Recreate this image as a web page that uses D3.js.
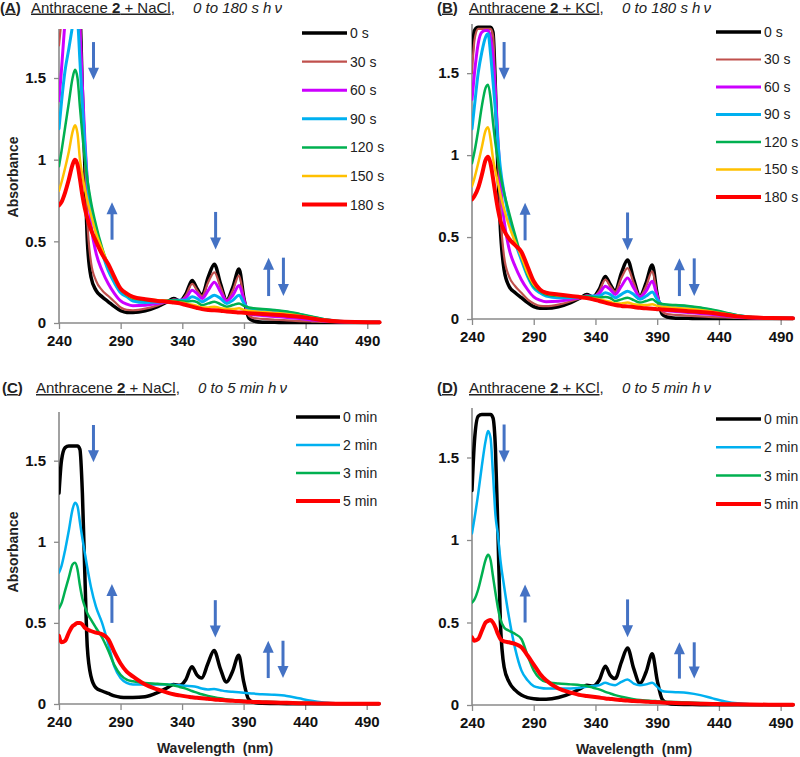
<!DOCTYPE html>
<html><head><meta charset="utf-8">
<script src="https://cdn.jsdelivr.net/npm/d3@7"></script>
<style>
body{margin:0;background:#fff}
svg{display:block;font-family:Arial,"Liberation Sans",sans-serif}
</style>
</head><body>
<svg id="chart" width="800" height="757"></svg>
<script>
// ---------- data ----------
const wavelengths = [240,242,245,248,251,253,255,257,259,261,263,266,270,275,280,285,290,295,300,310,320,328,333,338,343,348,352,356,361,366,371,376,381,386,390,394,398,405,415,425,435,445,455,465,480,500];
const xTickValues = [240,290,340,390,440,490];
const yTickValues = [0,0.5,1,1.5];
const yTickLabels = ["0","0.5","1","1.5"];
const secLabels = ["0 s","30 s","60 s","90 s","120 s","150 s","180 s"];
const minLabels = ["0 min","2 min","3 min","5 min"];
const secColors = ["#000000","#c0504d","#cc00ff","#00b0f0","#00b050","#ffc000","#ff0000"];
const minColors = ["#000000","#00b0f0","#00b050","#ff0000"];

// (A) Anthracene 2 + NaCl, 0-180 s
const A_0s   = [1.9,2.0,2.0,2.0,2.0,2.0,2.0,1.9,1.4,0.95, 0.5,0.28,0.2,0.16,0.13,0.1,0.075,0.065,0.065,0.075, 0.1,0.13,0.15,0.135,0.18,0.26,0.21,0.17,0.28,0.36, 0.24,0.14,0.22,0.33,0.15,0.03,0.012,0.005,0.004,0.003, 0.003,0.003,0.003,0.003,0.003,0.003];
const A_30s  = [1.7,1.85,2.0,2.0,2.0,2.0,2.0,1.88,1.4,1.0, 0.62,0.37,0.26,0.2,0.165,0.13,0.095,0.08,0.078,0.088, 0.108,0.13,0.145,0.135,0.17,0.24,0.2,0.165,0.25,0.31, 0.22,0.14,0.2,0.29,0.15,0.045,0.03,0.025,0.02,0.016, 0.012,0.009,0.006,0.005,0.004,0.003];
const A_60s  = [1.36,1.55,1.85,2.0,2.0,2.0,2.0,1.8,1.45,1.12, 0.86,0.6,0.43,0.32,0.24,0.18,0.135,0.115,0.105,0.108, 0.12,0.13,0.14,0.138,0.155,0.2,0.18,0.15,0.2,0.25, 0.19,0.135,0.17,0.23,0.14,0.06,0.05,0.046,0.04,0.034, 0.027,0.019,0.012,0.008,0.005,0.004];
const A_90s  = [1.19,1.35,1.55,1.68,1.82,1.92,1.86,1.6,1.33,1.08, 0.87,0.7,0.56,0.43,0.32,0.245,0.185,0.16,0.135,0.125, 0.128,0.133,0.138,0.14,0.14,0.16,0.15,0.13,0.15,0.17, 0.15,0.12,0.14,0.17,0.12,0.088,0.083,0.08,0.075,0.066, 0.052,0.036,0.021,0.012,0.007,0.005];
const A_120s = [0.96,1.05,1.2,1.35,1.5,1.55,1.5,1.32,1.15,1.0, 0.88,0.74,0.6,0.46,0.35,0.27,0.205,0.17,0.15,0.14, 0.138,0.138,0.138,0.135,0.13,0.135,0.128,0.11,0.12,0.13, 0.115,0.1,0.11,0.12,0.105,0.095,0.09,0.086,0.08,0.07, 0.056,0.04,0.023,0.013,0.007,0.005];
const A_150s = [0.81,0.86,0.95,1.05,1.17,1.21,1.16,1.0,0.9,0.82, 0.75,0.66,0.55,0.45,0.355,0.27,0.21,0.175,0.155,0.145, 0.14,0.135,0.13,0.125,0.12,0.112,0.105,0.095,0.095,0.1, 0.09,0.085,0.085,0.09,0.08,0.075,0.072,0.068,0.062,0.055, 0.045,0.032,0.02,0.012,0.007,0.005];
const A_180s = [0.72,0.74,0.8,0.88,0.97,1.0,0.97,0.88,0.78,0.7, 0.64,0.57,0.5,0.42,0.36,0.28,0.21,0.18,0.16,0.145, 0.135,0.13,0.125,0.12,0.11,0.1,0.092,0.085,0.08,0.078, 0.075,0.07,0.068,0.065,0.063,0.06,0.058,0.055,0.05,0.045, 0.038,0.028,0.017,0.01,0.006,0.005];

// (B) Anthracene 2 + KCl, 0-180 s
const B_0s   = [1.6,1.76,1.78,1.78,1.78,1.78,1.78,1.75,1.4,0.9, 0.55,0.3,0.2,0.16,0.13,0.1,0.075,0.065,0.065,0.075, 0.1,0.13,0.15,0.135,0.18,0.26,0.21,0.17,0.28,0.36, 0.24,0.14,0.22,0.33,0.15,0.03,0.012,0.005,0.004,0.003, 0.003,0.003,0.003,0.003,0.003,0.003];
const B_30s  = [1.5,1.7,1.77,1.77,1.77,1.77,1.77,1.73,1.4,1.0, 0.64,0.38,0.26,0.2,0.16,0.12,0.095,0.08,0.078,0.088, 0.108,0.13,0.145,0.135,0.17,0.24,0.2,0.165,0.25,0.31, 0.22,0.14,0.2,0.29,0.15,0.045,0.03,0.025,0.02,0.016, 0.012,0.009,0.006,0.005,0.004,0.003];
const B_60s  = [1.34,1.5,1.68,1.75,1.76,1.76,1.72,1.6,1.38,1.1, 0.84,0.6,0.43,0.32,0.24,0.18,0.135,0.115,0.105,0.108, 0.12,0.13,0.14,0.138,0.155,0.2,0.18,0.15,0.2,0.25, 0.19,0.135,0.17,0.23,0.14,0.06,0.05,0.046,0.04,0.034, 0.027,0.019,0.012,0.008,0.005,0.004];
const B_90s  = [1.16,1.3,1.5,1.63,1.72,1.74,1.62,1.45,1.27,1.08, 0.92,0.77,0.62,0.47,0.36,0.26,0.19,0.16,0.14,0.13, 0.13,0.133,0.138,0.14,0.14,0.16,0.15,0.13,0.15,0.17, 0.15,0.12,0.14,0.165,0.12,0.088,0.083,0.08,0.075,0.066, 0.052,0.036,0.021,0.012,0.007,0.005];
const B_120s = [0.95,1.02,1.15,1.3,1.41,1.43,1.35,1.2,1.07,0.97, 0.88,0.77,0.65,0.51,0.38,0.27,0.2,0.17,0.15,0.14, 0.138,0.138,0.138,0.135,0.13,0.135,0.128,0.11,0.12,0.13, 0.115,0.1,0.11,0.12,0.1,0.092,0.088,0.085,0.08,0.07, 0.056,0.04,0.023,0.013,0.007,0.005];
const B_150s = [0.81,0.86,0.95,1.05,1.15,1.17,1.1,0.98,0.9,0.83, 0.76,0.67,0.57,0.47,0.38,0.28,0.21,0.175,0.155,0.145, 0.14,0.135,0.13,0.125,0.12,0.112,0.105,0.095,0.095,0.1, 0.09,0.085,0.085,0.09,0.08,0.075,0.072,0.068,0.062,0.055, 0.045,0.032,0.02,0.012,0.007,0.005];
const B_180s = [0.73,0.75,0.8,0.88,0.97,0.99,0.95,0.86,0.76,0.67, 0.6,0.54,0.49,0.45,0.41,0.32,0.23,0.18,0.16,0.15, 0.14,0.133,0.128,0.12,0.11,0.1,0.092,0.085,0.08,0.077, 0.073,0.068,0.065,0.062,0.06,0.058,0.056,0.053,0.048,0.043, 0.036,0.026,0.016,0.01,0.006,0.005];

// (C) Anthracene 2 + NaCl, 0-5 min
const C_0min = [1.3,1.5,1.58,1.59,1.59,1.59,1.59,1.57,1.3,0.8, 0.35,0.17,0.1,0.08,0.065,0.05,0.042,0.04,0.04,0.045, 0.07,0.1,0.12,0.115,0.15,0.23,0.18,0.16,0.25,0.33, 0.22,0.135,0.2,0.3,0.14,0.03,0.01,0.004,0.003,0.002, 0.002,0.002,0.002,0.002,0.002,0.002];
const C_2min = [0.81,0.85,0.95,1.07,1.2,1.24,1.22,1.12,1.02,0.93, 0.84,0.72,0.6,0.5,0.37,0.23,0.16,0.13,0.12,0.12, 0.12,0.12,0.118,0.115,0.112,0.11,0.105,0.095,0.09,0.092, 0.085,0.078,0.075,0.073,0.07,0.066,0.064,0.06,0.057,0.05, 0.035,0.02,0.01,0.005,0.003,0.002];
const C_3min = [0.59,0.62,0.7,0.78,0.86,0.87,0.83,0.73,0.65,0.6, 0.56,0.52,0.47,0.41,0.33,0.24,0.18,0.15,0.14,0.13, 0.125,0.12,0.115,0.105,0.095,0.08,0.07,0.06,0.05,0.042, 0.035,0.03,0.025,0.022,0.02,0.018,0.016,0.014,0.012,0.01, 0.008,0.006,0.004,0.003,0.002,0.002];
const C_5min = [0.42,0.38,0.39,0.44,0.48,0.49,0.5,0.5,0.49,0.47, 0.46,0.45,0.44,0.43,0.4,0.32,0.25,0.2,0.17,0.12, 0.09,0.07,0.06,0.053,0.047,0.042,0.038,0.035,0.032,0.028, 0.025,0.022,0.02,0.018,0.016,0.014,0.013,0.011,0.009,0.007, 0.005,0.004,0.003,0.002,0.002,0.002];

// (D) Anthracene 2 + KCl, 0-5 min
const D_0min = [1.3,1.6,1.75,1.76,1.76,1.76,1.76,1.74,1.55,1.05, 0.5,0.23,0.14,0.09,0.06,0.045,0.038,0.035,0.035,0.045, 0.07,0.1,0.12,0.115,0.15,0.235,0.18,0.16,0.26,0.345, 0.22,0.13,0.2,0.31,0.15,0.035,0.012,0.004,0.003,0.002, 0.002,0.002,0.002,0.002,0.002,0.002];
const D_2min = [1.04,1.13,1.28,1.45,1.6,1.66,1.62,1.4,1.15,1.03, 0.88,0.72,0.53,0.34,0.21,0.15,0.115,0.105,0.1,0.1, 0.1,0.105,0.11,0.115,0.12,0.135,0.125,0.12,0.14,0.155, 0.13,0.12,0.125,0.135,0.11,0.085,0.08,0.078,0.073,0.06, 0.04,0.022,0.01,0.005,0.003,0.002];
const D_3min = [0.62,0.64,0.7,0.79,0.88,0.91,0.88,0.78,0.68,0.59, 0.52,0.47,0.45,0.43,0.4,0.3,0.21,0.16,0.14,0.13, 0.125,0.12,0.115,0.105,0.095,0.08,0.07,0.06,0.05,0.042, 0.035,0.03,0.027,0.025,0.023,0.021,0.02,0.018,0.015,0.012, 0.009,0.007,0.005,0.003,0.002,0.002];
const D_5min = [0.41,0.39,0.4,0.45,0.5,0.51,0.515,0.5,0.47,0.43, 0.4,0.385,0.38,0.37,0.35,0.3,0.245,0.19,0.15,0.1, 0.075,0.06,0.055,0.05,0.045,0.04,0.037,0.034,0.03,0.027, 0.024,0.022,0.02,0.018,0.017,0.015,0.014,0.012,0.01,0.008, 0.006,0.005,0.004,0.003,0.002,0.002];

// arrows: [wavelength, from absorbance, to absorbance]
const arrowsA = [[268,1.72,1.49],[283,0.51,0.74],[367,0.68,0.45],[410,0.165,0.40],[422,0.40,0.165]];
const arrowsB = [[266,1.69,1.46],[283,0.48,0.71],[366,0.65,0.42],[408,0.14,0.37],[420,0.37,0.14]];
const arrowsC = [[268,1.72,1.49],[283,0.50,0.74],[367,0.64,0.41],[410,0.16,0.39],[422,0.39,0.16]];
const arrowsD = [[266,1.70,1.47],[283,0.50,0.73],[366,0.64,0.41],[408,0.16,0.38],[420,0.38,0.16]];

// ---------- layout ----------
const secWidths = [3.5,2.2,3,3,2.5,2.5,4];
const minWidths = [3.5,2.5,2.5,4];
const panels = [
  {tag:"A", salt:"NaCl", span:"0 to 180 s", tx:0, ty:12.5, mainX:31, itX:193,
   x0:59, x1:379.6, y0:323, yTop:29, labels:secLabels, colors:secColors, widths:secWidths,
   series:[A_0s,A_30s,A_60s,A_90s,A_120s,A_150s,A_180s], arrows:arrowsA,
   leg:{x1:302,x2:347,y:33,dy:28.6}, ylab:177, xlab:null},
  {tag:"B", salt:"KCl", span:"0 to 180 s", tx:437, ty:12.5, mainX:469, itX:622,
   x0:472, x1:793, y0:319, yTop:24, labels:secLabels, colors:secColors, widths:secWidths,
   series:[B_0s,B_30s,B_60s,B_90s,B_120s,B_150s,B_180s], arrows:arrowsB,
   leg:{x1:716,x2:761,y:32,dy:27.5}, ylab:null, xlab:null},
  {tag:"C", salt:"NaCl", span:"0 to 5 min", tx:2, ty:393, mainX:36, itX:198,
   x0:59, x1:379, y0:704, yTop:412, labels:minLabels, colors:minColors, widths:minWidths,
   series:[C_0min,C_2min,C_3min,C_5min], arrows:arrowsC,
   leg:{x1:296,x2:340,y:417,dy:28}, ylab:552, xlab:215},
  {tag:"D", salt:"KCl", span:"0 to 5 min", tx:437, ty:393, mainX:469, itX:622,
   x0:472, x1:793, y0:705, yTop:408, labels:minLabels, colors:minColors, widths:minWidths,
   series:[D_0min,D_2min,D_3min,D_5min], arrows:arrowsD,
   leg:{x1:716,x2:761,y:419,dy:28.3}, ylab:null, xlab:634}
];

const svg = d3.select("#chart");
const axisColor = "#8a8a8a";
const arrowColor = "#4472c4";

panels.forEach((p, pi) => {
  const x = d3.scaleLinear().domain([240,500]).range([p.x0, p.x1]);
  const y = d3.scaleLinear().domain([0,1.8]).range([p.y0, p.yTop]);
  const g = svg.append("g");

  // clip
  const cid = "clip" + p.tag;
  svg.append("clipPath").attr("id", cid).append("rect")
    .attr("x", p.x0).attr("y", p.yTop).attr("width", p.x1 - p.x0 + 4).attr("height", p.y0 - p.yTop + 3);

  // axes
  const xAxis = d3.axisBottom(x).tickValues(xTickValues).tickSize(6).tickFormat(d3.format("d"));
  const yAxis = d3.axisLeft(y).tickValues(yTickValues).tickSize(5).tickFormat((d,i)=>yTickLabels[i]);
  const gx = g.append("g").attr("transform", `translate(0,${p.y0})`).call(xAxis);
  const gy = g.append("g").attr("transform", `translate(${p.x0},0)`).call(yAxis);
  [gx, gy].forEach(a => {
    a.select(".domain").attr("stroke", axisColor).attr("stroke-width", 1.6);
    a.selectAll(".tick line").attr("stroke", axisColor).attr("stroke-width", 1.3);
    a.selectAll(".tick text").attr("fill", "#111").attr("font-weight", "bold")
      .attr("font-size", 15).attr("font-family", "Arial, 'Liberation Sans', sans-serif");
  });
  gx.select(".domain").attr("d", `M${p.x0},0H${p.x1}`);
  gx.selectAll(".tick text").attr("dy", null).attr("y", 23);
  gy.select(".domain").attr("d", `M0,${p.y0}V${p.yTop}`);
  gy.selectAll(".tick text").attr("x", -13);

  // lines
  const line = d3.line().x(d => x(d[0])).y(d => y(d[1])).curve(d3.curveMonotoneX);
  const lg = g.append("g").attr("clip-path", `url(#${cid})`);
  p.series.forEach((s, i) => {
    lg.append("path").datum(wavelengths.map((w, k) => [w, s[k]]))
      .attr("d", line).attr("fill", "none")
      .attr("stroke", p.colors[i]).attr("stroke-width", p.widths[i])
      .attr("stroke-linejoin", "round").attr("stroke-linecap", "round");
  });

  // arrows
  p.arrows.forEach(a => {
    const ax = x(a[0]), yf = y(a[1]), yt = y(a[2]);
    const dir = yt > yf ? 1 : -1;
    const head = 12, hw = 5.5;
    g.append("line").attr("x1", ax).attr("x2", ax).attr("y1", yf).attr("y2", yt - dir * (head - 1))
      .attr("stroke", arrowColor).attr("stroke-width", 3);
    g.append("path").attr("d", `M${ax - hw},${yt - dir * head}L${ax + hw},${yt - dir * head}L${ax},${yt}Z`)
      .attr("fill", arrowColor);
  });

  // legend
  p.labels.forEach((lab, i) => {
    const ly = p.leg.y + i * p.leg.dy;
    g.append("line").attr("x1", p.leg.x1).attr("x2", p.leg.x2).attr("y1", ly).attr("y2", ly)
      .attr("stroke", p.colors[i]).attr("stroke-width", p.widths[i]);
    g.append("text").attr("x", p.leg.x2 + 3).attr("y", ly).attr("dy", "0.35em")
      .attr("font-size", 14).attr("fill", "#222").text(lab);
  });

  // title
  const t1 = g.append("text").attr("x", p.tx).attr("y", p.ty).attr("font-size", 15)
    .attr("font-weight", "bold").attr("fill", "#222");
  t1.append("tspan").text("(");
  t1.append("tspan").style("text-decoration", "underline").text(p.tag);
  t1.append("tspan").text(")");
  const t2 = g.append("text").attr("x", p.mainX).attr("y", p.ty).attr("font-size", 15)
    .attr("fill", "#222").style("white-space", "pre");
  t2.append("tspan").style("text-decoration", "underline").text("Anthracene ");
  t2.append("tspan").style("text-decoration", "underline").attr("font-weight", "bold").text("2");
  t2.append("tspan").style("text-decoration", "underline").text(" + " + p.salt);
  t2.append("tspan").text(",");
  g.append("text").attr("x", p.itX).attr("y", p.ty).attr("font-size", 15)
    .attr("font-style", "italic").attr("fill", "#222").style("white-space", "pre")
    .text(p.span + " h\u2009\u03bd");

  // axis titles
  if (p.ylab !== null) {
    g.append("text").attr("transform", `translate(18,${p.ylab}) rotate(-90)`)
      .attr("text-anchor", "middle").attr("font-size", 14).attr("font-weight", "bold")
      .attr("fill", "#222").text("Absorbance");
  }
  if (p.xlab !== null) {
    g.append("text").attr("x", p.xlab).attr("y", p.y0 + 49).attr("text-anchor", "middle")
      .attr("font-size", 14).attr("font-weight", "bold").attr("fill", "#222")
      .style("white-space", "pre").text("Wavelength  (nm)");
  }
});
</script>
</body></html>
